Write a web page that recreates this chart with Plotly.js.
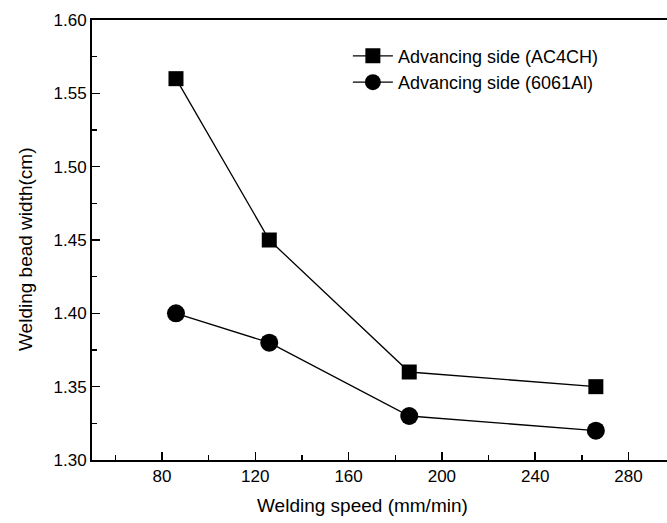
<!DOCTYPE html>
<html>
<head>
<meta charset="utf-8">
<script src="https://cdn.plot.ly/plotly-3.0.1.min.js"></script>
<style>html,body{margin:0;padding:0;background:#fff;}</style>
</head>
<body>
<div id="chart" style="width:667px;height:523px;"></div>
<script>
const speed = [86, 126, 186, 266];
const widthAC4CH = [1.56, 1.45, 1.36, 1.35];
const width6061 = [1.40, 1.38, 1.33, 1.32];
const seriesNames = ["Advancing side (AC4CH)", "Advancing side (6061Al)"];
const xTicks = [80, 120, 160, 200, 240, 280];
const yTicks = [1.30, 1.35, 1.40, 1.45, 1.50, 1.55, 1.60];
const xTitle = "Welding speed (mm/min)";
const yTitle = "Welding bead width(cm)";

const font = "Liberation Sans, Arial, sans-serif";
const traces = [
  {x: speed, y: widthAC4CH, name: seriesNames[0], type: "scatter", mode: "lines+markers",
   line: {color: "#000", width: 1.3}, marker: {symbol: "square", size: 15, color: "#000"}},
  {x: speed, y: width6061, name: seriesNames[1], type: "scatter", mode: "lines+markers",
   line: {color: "#000", width: 1.3}, marker: {symbol: "circle", size: 18, color: "#000"}}
];
const layout = {
  width: 667, height: 523,
  margin: {l: 92, r: 0, t: 20, b: 63},
  paper_bgcolor: "#fff", plot_bgcolor: "#fff",
  font: {family: font, color: "#000", size: 17},
  showlegend: true,
  legend: {x: 0.445, y: 0.96, xanchor: "left", yanchor: "top", bgcolor: "rgba(0,0,0,0)",
           font: {size: 18, family: font}, tracegroupgap: 0, itemwidth: 40},
  xaxis: {
    range: [50, 296.5], tickvals: xTicks, ticks: "inside", ticklen: 8, tickwidth: 1.5,
    tickcolor: "#000", showline: true, linecolor: "#000", linewidth: 2, mirror: true,
    showgrid: false, zeroline: false,
    minor: {dtick: 20, tick0: 0, ticks: "inside", ticklen: 5, tickwidth: 1.5, tickcolor: "#000", showgrid: false},
    tickfont: {size: 17, family: font}
  },
  yaxis: {
    range: [1.30, 1.60], tickvals: yTicks, ticktext: yTicks.map(v => v.toFixed(2)),
    ticks: "inside", ticklen: 8, tickwidth: 1.5, tickcolor: "#000",
    showline: true, linecolor: "#000", linewidth: 2, mirror: false,
    showgrid: false, zeroline: false,
    minor: {dtick: 0.025, tick0: 1.3, ticks: "inside", ticklen: 5, tickwidth: 1.5, tickcolor: "#000", showgrid: false},
    tickfont: {size: 17, family: font}
  },
  annotations: [
    {text: xTitle, xref: "paper", yref: "paper", x: (362 - 92) / 575, y: -(505 - 460) / 440,
     xanchor: "center", yanchor: "middle", showarrow: false, font: {size: 19, family: font}},
    {text: yTitle, xref: "paper", yref: "paper", x: (25 - 92) / 575, y: (460 - 250) / 440,
     xanchor: "center", yanchor: "middle", textangle: -90, showarrow: false, font: {size: 19, family: font}}
  ]
};
Plotly.newPlot("chart", traces, layout, {displayModeBar: false, staticPlot: true});
</script>
</body>
</html>
